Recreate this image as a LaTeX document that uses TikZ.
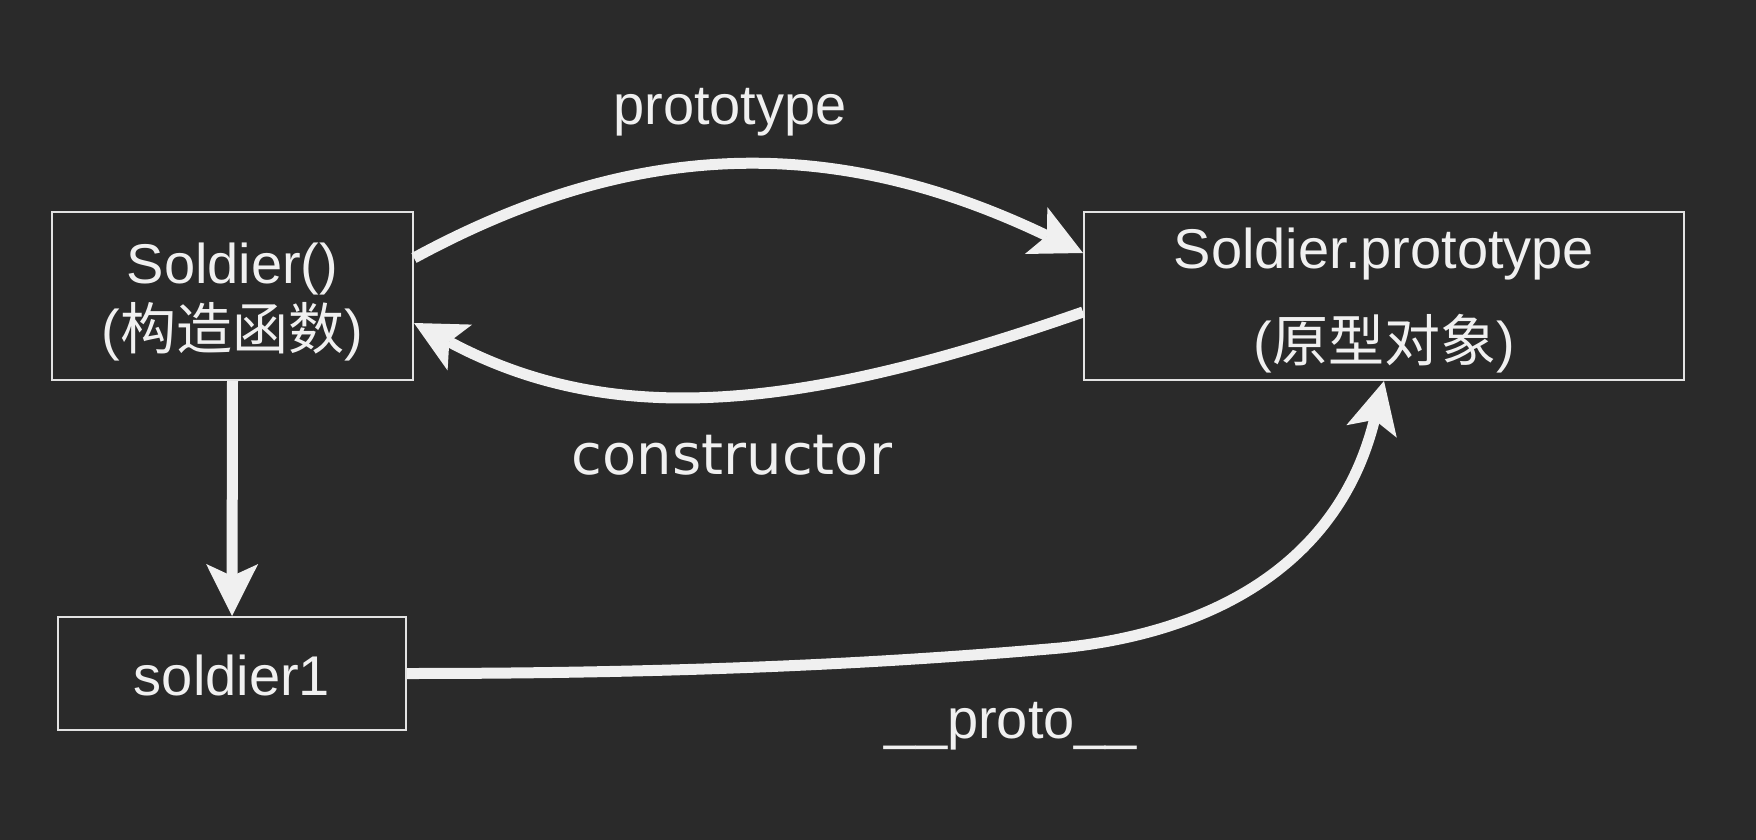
\documentclass[tikz,border=0pt]{standalone}
\usepackage{fontspec}
\setmainfont{Liberation Sans}
\newfontfamily\cjkfont{Noto Sans CJK SC}
\newfontfamily\labelfont{DejaVu Sans}
\usetikzlibrary{arrows.meta,calc}
\definecolor{bgc}{HTML}{2A2A2A}
\definecolor{ink}{HTML}{F0F0F0}
\definecolor{frame}{HTML}{E2E2E2}

\begin{document}
\begin{tikzpicture}[x=1pt,y=-1pt,
  box/.style={draw=frame, line width=2pt, inner sep=0pt, text=ink, align=center,
              font=\fontsize{56}{66}\selectfont},
  lbl/.style={text=ink, inner sep=0pt, anchor=base, font=\fontsize{56}{66}\selectfont},
  link/.style={draw=ink, line width=11pt,
               -{Stealth[length=52pt,width=52pt,inset=12pt,line width=0pt]}},
]
% canvas
\fill[bgc] (0,0) rectangle (1756,840);
\useasboundingbox (0,0) rectangle (1756,840);

% objects (text height/depth place the last baseline inside each frame)
\node[box, minimum width=361pt, minimum height=168pt, text height=130pt, text depth=24pt]
  (ctor) at (232.5,296) {Soldier()\\({\cjkfont 构造函数})};
\node[box, minimum width=600pt, minimum height=168pt, text height=145pt, text depth=15pt]
  (proto) at (1384,296) {Soldier.prototype\\[27pt]({\cjkfont 原型对象})};
\node[box, minimum width=348pt, minimum height=113pt, text height=60pt, text depth=17pt]
  (inst) at (232,673.5) {soldier1};

% edge labels
\node[lbl] (lproto) at (730,125) {prototype};
\node[lbl, font=\labelfont\fontsize{56}{66}\selectfont] (lctor) at (732,474) {constructor};
\node[lbl] (ldunder) at (1011,738) {\_\_proto\_\_};

% connectors
\draw[link] ($(ctor.east)+(0,-38)$) .. controls +(230,-125) and +(-240,-115) .. ($(proto.west)+(0,-43)$);
\draw[link] ($(proto.west)+(0,16)$) .. controls +(-280,98) and +(200,107) .. ($(ctor.east)+(0,27)$);
\draw[link] (ctor.south) -- (inst.north);
\coordinate (bend) at (1060,648);
\draw[link] (inst.east) .. controls +(293,0) and +(-160,14) .. (bend)
  .. controls +(160,-16) and +(-44,178) .. (proto.south);
\end{tikzpicture}
\end{document}
